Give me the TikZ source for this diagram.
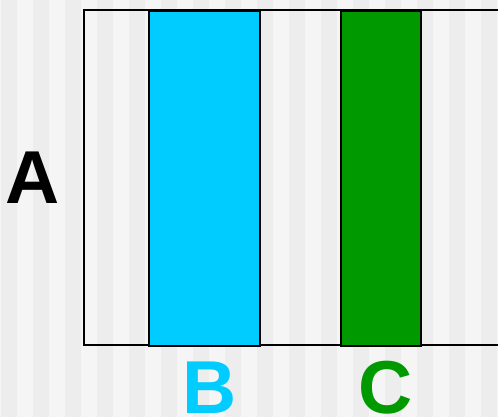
\documentclass[tikz,border=0pt]{standalone}
\usepackage{fontspec}
\setmainfont{Liberation Sans}
\usepackage{xcolor}
\usepackage{tikz}
\usetikzlibrary{positioning}
\definecolor{bgdark}{HTML}{EDEDED}
\definecolor{bglight}{HTML}{F5F5F5}
\definecolor{barblue}{HTML}{00CCFF}
\definecolor{bargreen}{HTML}{009900}

\begin{document}
\begin{tikzpicture}[
  x=1pt,y=-1pt,
  bar/.style={draw=black,line width=2pt,inner sep=0pt,minimum height=335pt,anchor=north west},
  letter/.style={font=\bfseries\fontsize{75}{75}\selectfont,inner sep=0pt,anchor=base}
]
\useasboundingbox (0,0) rectangle (498,417);
\clip (0,0) rectangle (498,417);
% striped background
\fill[bglight] (0,0) rectangle (498,417);
\foreach \i in {0,...,15}
  \fill[bgdark] (1+32*\i,0) rectangle (17+32*\i,417);
% frame, running off the right edge
\coordinate (frametl) at (84,10);
\coordinate (framebr) at (510,345);
\draw[line width=2pt] (frametl) rectangle (framebr);
% bars
\node[bar,fill=barblue,minimum width=111pt] (barb) at (148,10) {};
\node[bar,fill=bargreen,minimum width=80pt] (barc) at (340,10) {};
% labels
\node[letter] (labela) at (33,203) {A};
\node[letter,text=barblue] (labelb) at (210,413) {B};
\node[letter,text=bargreen] (labelc) at (386,413) {C};
\end{tikzpicture}
\end{document}
